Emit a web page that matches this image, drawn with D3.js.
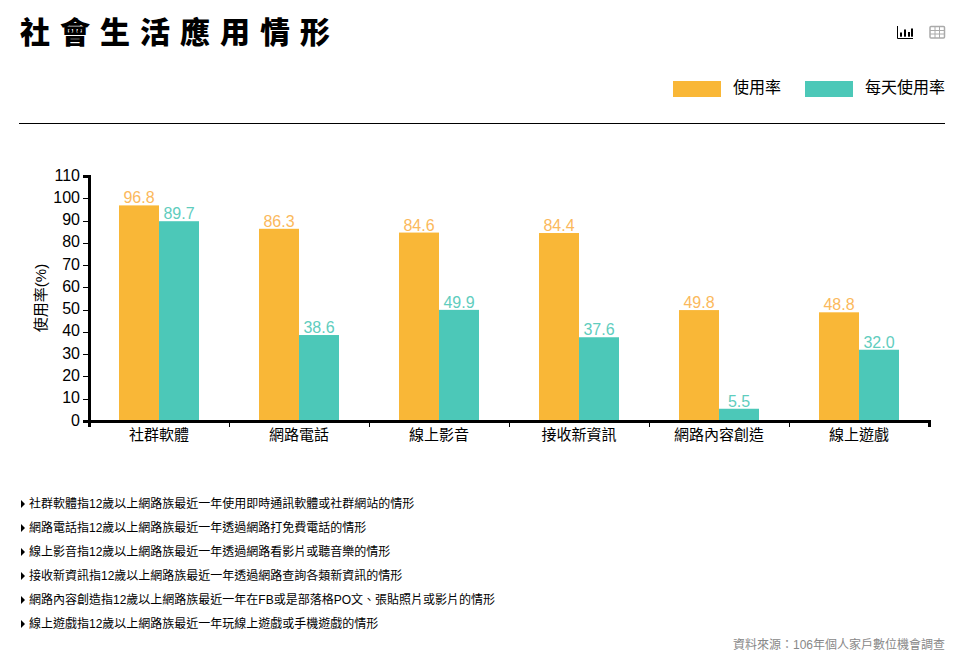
<!DOCTYPE html>
<html lang="zh-Hant">
<head>
    <meta charset="UTF-8">
    <title>社會生活應用情形</title>
    <script src="https://d3js.org/d3.v7.min.js"></script>
    <style>
        html, body { margin: 0; padding: 0; background: #fff; }
        svg { display: block; }
        text { font-family: "Liberation Sans", "Noto Sans CJK TC", sans-serif; fill: #000; }
        .title { font-size: 30px; font-weight: 900; letter-spacing: 10px; font-family: "Noto Sans CJK TC", sans-serif; }
        .legend text { font-size: 16px; }
        .axis .domain { stroke: #000; stroke-width: 3px; fill: none; }
        .axis line { stroke: #000; stroke-width: 1px; shape-rendering: crispEdges; }
        .axis-y text { font-size: 16px; }
        .axis-x text { font-size: 15px; }
        .axis-label { font-size: 15px; }
        .bar-label { font-size: 16px; text-anchor: middle; }
        .note { font-size: 12px; }
        .source { font-size: 12px; fill: #888; text-anchor: end; }
    </style>
</head>
<body>
    <div id="chart"></div>
    <script>
        const categories = ["社群軟體", "網路電話", "線上影音", "接收新資訊", "網路內容創造", "線上遊戲"];
        const useRate = [96.8, 86.3, 84.6, 84.4, 49.8, 48.8];
        const dailyRate = [89.7, 38.6, 49.9, 37.6, 5.5, 32.0];
        const seriesNames = ["使用率", "每天使用率"];
        const seriesColors = ["#f9b737", "#4cc8b8"];
        const labelColors = ["#fbb95c", "#5fcdbe"];
        const yTicks = [0, 10, 20, 30, 40, 50, 60, 70, 80, 90, 100, 110];
        const notes = [
            "社群軟體指12歲以上網路族最近一年使用即時通訊軟體或社群網站的情形",
            "網路電話指12歲以上網路族最近一年透過網路打免費電話的情形",
            "線上影音指12歲以上網路族最近一年透過網路看影片或聽音樂的情形",
            "接收新資訊指12歲以上網路族最近一年透過網路查詢各類新資訊的情形",
            "網路內容創造指12歲以上網路族最近一年在FB或是部落格PO文、張貼照片或影片的情形",
            "線上遊戲指12歲以上網路族最近一年玩線上遊戲或手機遊戲的情形"
        ];

        const svg = d3.select("#chart").append("svg")
            .attr("width", 968)
            .attr("height", 662);

        svg.append("text")
            .attr("class", "title")
            .attr("x", 20)
            .attr("y", 43)
            .text("社會生活應用情形");

        // bar chart / table icons, top right
        const barIcon = svg.append("g").attr("transform", "translate(897,26)");
        barIcon.append("path").attr("d", "M0.5,0V12.5H16").attr("fill", "none").attr("stroke", "#000");
        [[3, 6.5], [7, 3.5], [11, 6], [14, 2.5]].forEach(d => {
            barIcon.append("rect").attr("x", d[0]).attr("y", d[1])
                .attr("width", 2).attr("height", 10.7 - d[1]).attr("fill", "#000");
        });
        const tableIcon = svg.append("g").attr("transform", "translate(930,26.5)");
        tableIcon.append("rect").attr("x", 0).attr("y", 0).attr("width", 14.5).attr("height", 11.5)
            .attr("rx", 1).attr("fill", "#fff").attr("stroke", "#aaa").attr("stroke-width", 1.5);
        ["M0,4H14.5", "M0,7.5H14.5", "M5,0V11.5", "M9.5,0V11.5"].forEach(d => {
            tableIcon.append("path").attr("d", d).attr("stroke", "#aaa").attr("stroke-width", 1);
        });

        // legend
        const legend = svg.append("g").attr("class", "legend")
            .selectAll("g")
            .data(seriesNames)
            .enter().append("g")
            .attr("transform", (d, i) => `translate(${673 + i * 132},81)`);
        legend.append("rect")
            .attr("width", 48)
            .attr("height", 16)
            .attr("fill", (d, i) => seriesColors[i]);
        legend.append("text")
            .attr("x", 60)
            .attr("y", 12)
            .text(d => d);

        svg.append("line")
            .attr("x1", 19).attr("x2", 945)
            .attr("y1", 123.5).attr("y2", 123.5)
            .attr("stroke", "#000");

        // chart
        const x0 = d3.scaleBand().domain(categories).range([89, 929]);
        const x1 = d3.scaleBand().domain(seriesNames).range([30, 110]);
        const y = d3.scaleLinear().domain([0, 110]).range([421, 176]);

        const rows = categories.map((c, i) => ({category: c, values: [useRate[i], dailyRate[i]]}));

        const groups = svg.append("g")
            .selectAll("g")
            .data(rows)
            .enter().append("g")
            .attr("transform", d => `translate(${x0(d.category)},0)`);

        groups.selectAll("rect")
            .data(d => d.values.map((v, i) => ({name: seriesNames[i], value: v, i: i})))
            .enter().append("rect")
            .attr("x", d => x1(d.name))
            .attr("y", d => y(d.value))
            .attr("width", x1.bandwidth())
            .attr("height", d => y(0) - y(d.value))
            .attr("fill", d => seriesColors[d.i]);

        groups.selectAll("text")
            .data(d => d.values.map((v, i) => ({name: seriesNames[i], value: v, i: i})))
            .enter().append("text")
            .attr("class", "bar-label")
            .attr("x", d => x1(d.name) + x1.bandwidth() / 2)
            .attr("y", d => y(d.value) - 2)
            .style("fill", d => labelColors[d.i])
            .text(d => d.value.toFixed(1));

        const yAxis = svg.append("g")
            .attr("class", "axis axis-y")
            .attr("transform", "translate(89,0)")
            .call(d3.axisLeft(y).tickValues(yTicks).tickSize(6).tickPadding(3));
        yAxis.selectAll(".tick text").attr("dy", "0.25em");

        const xAxis = svg.append("g")
            .attr("class", "axis axis-x")
            .attr("transform", "translate(0,421)")
            .call(d3.axisBottom(x0).tickSize(6).tickPadding(2));
        // ticks sit between the bands, not under the labels
        xAxis.selectAll(".tick line")
            .attr("x1", x0.bandwidth() / 2)
            .attr("x2", x0.bandwidth() / 2);
        xAxis.selectAll(".tick text").attr("y", 8);

        svg.append("text")
            .attr("class", "axis-label")
            .attr("transform", "rotate(-90)")
            .attr("x", -298)
            .attr("y", 46)
            .attr("text-anchor", "middle")
            .text("使用率(%)");

        // notes
        const noteRows = svg.append("g")
            .selectAll("g")
            .data(notes)
            .enter().append("g")
            .attr("transform", (d, i) => `translate(21,${504 + i * 24})`);
        noteRows.append("path")
            .attr("d", "M0,-4L4,0L0,4Z")
            .attr("fill", "#000");
        noteRows.append("text")
            .attr("class", "note")
            .attr("x", 8)
            .attr("y", 4)
            .text(d => d);

        svg.append("text")
            .attr("class", "source")
            .attr("x", 945)
            .attr("y", 649)
            .text("資料來源：106年個人家戶數位機會調查");
    </script>
</body>
</html>
